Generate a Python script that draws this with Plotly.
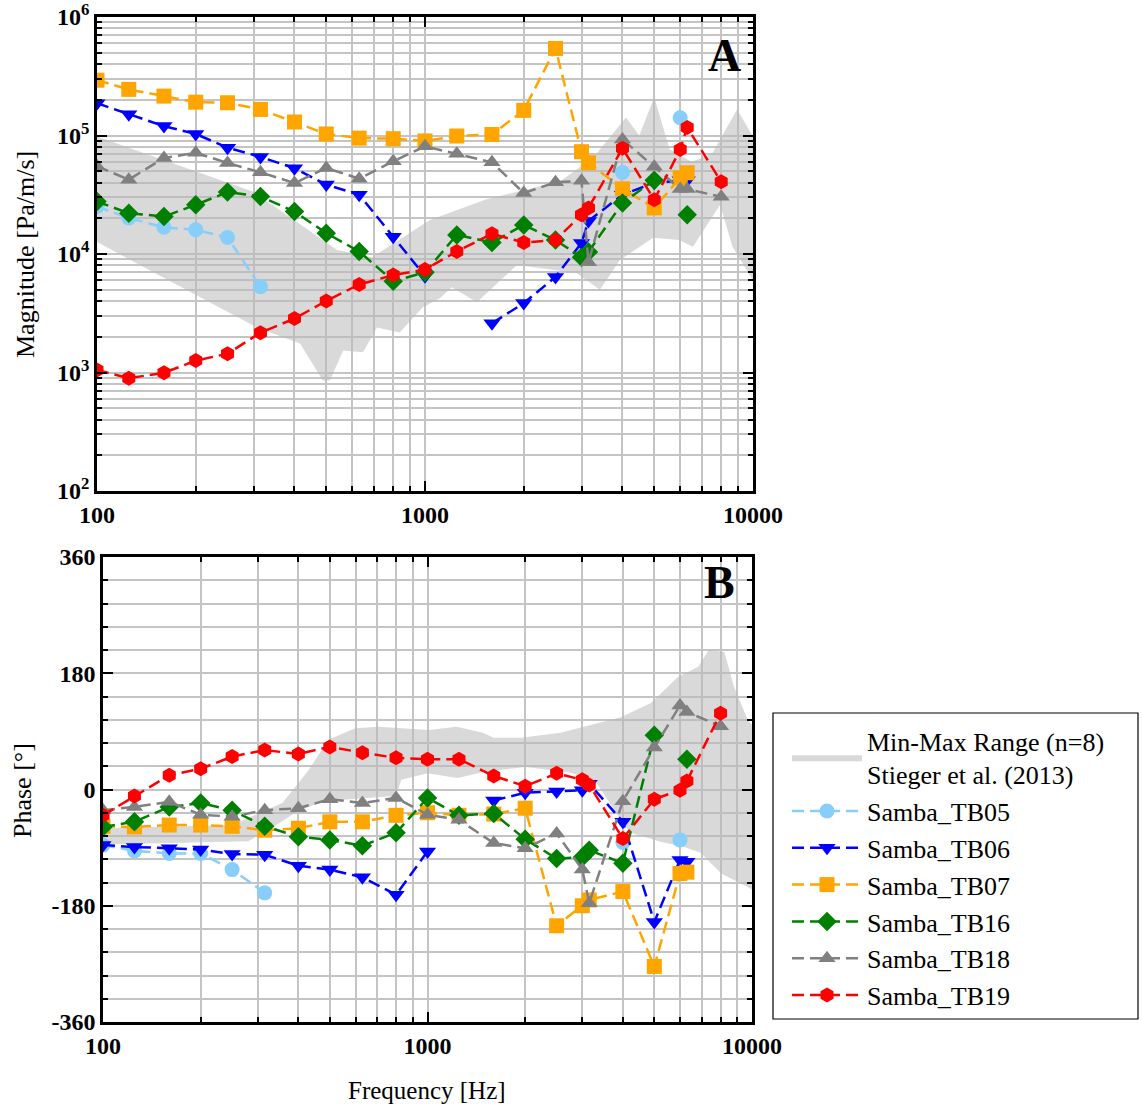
import plotly.graph_objects as go

# ---------------- data ----------------
freqs = [100, 125, 160, 200, 250, 315, 400, 500, 630, 800, 1000, 1250, 1600,
         2000, 2500, 3000, 3150, 4000, 5000, 6000, 6300, 8000]

series_names = ["Samba_TB05", "Samba_TB06", "Samba_TB07", "Samba_TB16",
                "Samba_TB18", "Samba_TB19"]

mag_tb05 = [2.52e4, 2.01e4, 1.68e4, 1.6e4, 1.38e4, 5.3e3, None, None, None, None, None,
            None, None, None, None, None, None, 4.87e4, None, 1.41e5, None, None]
mag_tb06 = [1.87e5, 1.51e5, 1.2e5, 1.03e5, 7.9e4, 6.6e4, 5.3e4, 3.85e4, 3.16e4, 1.4e4, 6.5e3,
            None, 2.6e3, 3.85e3, 6.4e3, 1.24e4, 1.9e4, 3.16e4, 4.0e4, 4.2e4, 4.2e4, None]
mag_tb07 = [2.93e5, 2.45e5, 2.15e5, 1.91e5, 1.89e5, 1.66e5, 1.3e5, 1.03e5, 9.5e4, 9.4e4, 9.0e4,
            9.9e4, 1.02e5, 1.63e5, 5.43e5, 7.3e4, 5.9e4, 3.55e4, 2.45e4, 4.4e4, 4.85e4, None]
mag_tb16 = [2.77e4, 2.21e4, 2.07e4, 2.6e4, 3.33e4, 3.06e4, 2.28e4, 1.5e4, 1.05e4, 5.9e3, 7.0e3,
            1.45e4, 1.25e4, 1.76e4, 1.31e4, 9.4e3, 1.04e4, 2.7e4, 4.2e4, None, 2.14e4, None]
mag_tb18 = [5.5e4, 4.24e4, 6.47e4, 7.14e4, 5.87e4, 4.89e4, 3.97e4, 5.32e4, 4.32e4, 6.05e4, 8.1e4,
            7.03e4, 5.94e4, 3.27e4, 4.03e4, 4.15e4, 8.5e3, 9.25e4, 5.46e4, 3.53e4, 3.53e4, 3.04e4]
mag_tb19 = [1.05e3, 896, 994, 1.26e3, 1.44e3, 2.17e3, 2.85e3, 4.02e3, 5.53e3, 6.64e3, 7.41e3,
            1.05e4, 1.48e4, 1.25e4, 1.31e4, 2.14e4, 2.45e4, 7.8e4, 2.87e4, 7.6e4, 1.17e5, 4.07e4]

ph_tb05 = [-86, -95, -99, -99, -124, -160, None, None, None, None, None,
           None, None, None, None, None, None, -82, None, -78, None, None]
ph_tb06 = [-86, -89, -91, -93, -100, -101, -118, -124, -136, -163, -96,
           None, -17, -5, -3, -1, 9, -50, -205, -109, -112, None]
ph_tb07 = [-57, -58, -55, -55, -57, -63, -60, -50, -50, -40, -36,
           -40, -38, -29, -211, -180, -171, -158, -274, -130, -128, None]
ph_tb16 = [-58, -50, -27, -21, -32, -57, -73, -78, -87, -67, -13,
           -40, -37, -77, -107, -105, -94, -114, 84, None, 47, None]
ph_tb18 = [-32, -27, -19, -39, -42, -32, -29, -15, -21, -13, -39,
           -47, -83, -91, -68, -124, -176, -18, 65, 130, 120, 98]
ph_tb19 = [-40, -10, 22, 32, 51, 61, 55, 66, 57, 49, 47,
           47, 21, 5, 25, 15, 7, -76, -15, -1, 13, 118]

# Min-max range (Stieger et al. 2013), magnitude
band_mag_upper_f = [100, 300, 540, 690, 1035, 1540, 2580, 3270, 4100, 4500, 5000, 5570,
                    6500, 7500, 8940, 10000]
band_mag_upper_v = [9.8e4, 3.35e4, 1.08e4, 9.4e3, 1.94e4, 2.9e4, 4.1e4, 6.6e4, 1.42e5,
                    1.0e5, 2.1e5, 7.6e4, 6.0e4, 7.0e4, 1.66e5, 9.8e4]
band_mag_lower_f = [100, 307, 416, 488, 513, 563, 647, 714, 837, 985, 1110, 1207, 1440,
                    1905, 2900, 3412, 3930, 4960, 5960, 6560, 7940, 8660, 10000]
band_mag_lower_v = [1.26e4, 2.4e3, 1.76e3, 855, 855, 1.53e3, 1.48e3, 2.4e3, 2.18e3, 3.56e3,
                    4.24e3, 5.25e3, 3.92e3, 8.07e3, 6.9e3, 5.0e3, 8.9e3, 1.37e4, 1.31e4,
                    1.15e4, 2.6e4, 1.15e4, 6.0e3]

# Min-max range, phase
band_ph_upper_f = [100, 250, 357, 430, 495, 599, 707, 1010, 1230, 1480, 1600, 1950, 2570,
                   3940, 4880, 5900, 6830, 7360, 8220, 8800, 9700, 10000]
band_ph_upper_v = [-60, -55, -21, 30, 77, 95, 97, 92, 97, 88, 80, 80, 88,
                   112, 134, 174, 190, 216, 213, 159, 108, 100]
band_ph_lower_f = [100, 280, 330, 400, 480, 700, 800, 830, 1000, 1236, 1490, 2000, 2700,
                   3270, 3940, 4220, 5230, 6180, 6940, 8040, 9700, 10000]
band_ph_lower_v = [-85, -80, -60, -33, -18, -12, -10, 15, 25, 18, 27, 35, 27,
                   15, -47, -67, -81, -89, -98, -130, -151, -155]

band_name = "Min-Max Range (n=8)<br>Stieger et al. (2013)"

mag_x_ticks = [100, 1000, 10000]
mag_x_labels = ["100", "1000", "10000"]
mag_y_ticks = [1e2, 1e3, 1e4, 1e5, 1e6]
mag_y_labels = ["10<sup>2</sup>", "10<sup>3</sup>", "10<sup>4</sup>", "10<sup>5</sup>", "10<sup>6</sup>"]
ph_y_ticks = [-360, -180, 0, 180, 360]
ph_y_labels = ["-360", "-180", "0", "180", "360"]

# ---------------- style ----------------
colors = ["#87CEFA", "#0000FF", "#FFA500", "#008000", "#808080", "#FF0000"]
symbols = ["circle", "triangle-down", "square", "diamond", "triangle-up", "hexagon"]
mags = [mag_tb05, mag_tb06, mag_tb07, mag_tb16, mag_tb18, mag_tb19]
phs = [ph_tb05, ph_tb06, ph_tb07, ph_tb16, ph_tb18, ph_tb19]

W, H = 1142, 1106
FONT = "Liberation Serif"
band_fill = "rgba(185,185,185,0.55)"
grid_col = "#c4c4c4"

fig = go.Figure()

def add_band(fu, vu, fl, vl, xa, ya, show):
    fig.add_trace(go.Scatter(
        x=list(fu) + list(fl)[::-1], y=list(vu) + list(vl)[::-1],
        fill="toself", fillcolor=band_fill, mode="lines",
        line=dict(width=0, color="rgba(0,0,0,0)"),
        name=band_name, showlegend=show, xaxis=xa, yaxis=ya, hoverinfo="skip"))

add_band(band_mag_upper_f, band_mag_upper_v, band_mag_lower_f, band_mag_lower_v, "x", "y", True)
add_band(band_ph_upper_f, band_ph_upper_v, band_ph_lower_f, band_ph_lower_v, "x2", "y2", False)

for i, nm in enumerate(series_names):
    for vals, xa, ya, show in [(mags[i], "x", "y", True), (phs[i], "x2", "y2", False)]:
        fig.add_trace(go.Scatter(
            x=freqs, y=vals, mode="lines+markers", name=nm, legendgroup=nm,
            showlegend=show, xaxis=xa, yaxis=ya, connectgaps=False,
            line=dict(color=colors[i], width=2.5, dash="12px,6px"),
            marker=dict(color=colors[i], symbol=symbols[i], size=15,
                        line=dict(width=0))))

def log_minor(lo, hi):
    out = []
    for e in range(lo, hi):
        for m in range(2, 10):
            out.append(m * 10 ** e)
    return out

tickfont = dict(family=FONT, size=24, color="black")
common = dict(showline=True, linecolor="black", linewidth=2.5, mirror="ticks",
              ticks="inside", ticklen=10, tickwidth=2, tickcolor="black",
              showgrid=True, gridcolor=grid_col, gridwidth=1.5, zeroline=False,
              tickfont=tickfont, tickmode="array", automargin=False)

minor_x = dict(tickmode="array", tickvals=log_minor(2, 4), ticks="inside", ticklen=5,
               tickwidth=1.5, tickcolor="black", showgrid=True, gridcolor=grid_col,
               gridwidth=1.5)
minor_ymag = dict(tickmode="array", tickvals=log_minor(2, 6), ticks="inside", ticklen=5,
                  tickwidth=1.5, tickcolor="black", showgrid=True, gridcolor=grid_col,
                  gridwidth=1.5)
minor_yph = dict(tickmode="linear", tick0=0, dtick=36, ticks="inside", ticklen=5,
                 tickwidth=1.5, tickcolor="black", showgrid=True, gridcolor=grid_col,
                 gridwidth=1.5)

bold = lambda L: ["<b>%s</b>" % s for s in L]

LEG_X0, LEG_Y0, LEG_X1, LEG_Y1 = 773, 713, 1138, 1019

fig.update_layout(
    width=W, height=H, autosize=False,
    margin=dict(l=0, r=0, t=0, b=0, pad=0, autoexpand=False),
    paper_bgcolor="white", plot_bgcolor="white",
    font=dict(family=FONT, color="black"),
    xaxis=dict(type="log", range=[2, 4], domain=[97 / W, 753 / W], anchor="y",
               tickvals=mag_x_ticks, ticktext=bold(mag_x_labels), minor=minor_x, **common),
    yaxis=dict(type="log", range=[2, 6], domain=[1 - 491 / H, 1 - 17 / H], anchor="x",
               tickvals=mag_y_ticks, ticktext=bold(mag_y_labels), minor=minor_ymag, **common),
    xaxis2=dict(type="log", range=[2, 4], domain=[103 / W, 752 / W], anchor="y2",
                tickvals=mag_x_ticks, ticktext=bold(mag_x_labels), minor=minor_x, **common),
    yaxis2=dict(range=[-360, 360], domain=[1 - 1022 / H, 1 - 557 / H], anchor="x2",
                tickvals=ph_y_ticks, ticktext=bold(ph_y_labels), minor=minor_yph, **common),
    legend=dict(x=787 / W, y=1 - 717 / H, xanchor="left", yanchor="top",
                borderwidth=0, bgcolor="rgba(0,0,0,0)",
                font=dict(family=FONT, size=26, color="black"),
                itemwidth=70, tracegroupgap=0),
    showlegend=True,
)

# legend frame
fig.add_shape(type="rect", xref="paper", yref="paper",
              x0=LEG_X0 / W, x1=LEG_X1 / W, y0=1 - LEG_Y1 / H, y1=1 - LEG_Y0 / H,
              line=dict(color="black", width=1.2), fillcolor="rgba(0,0,0,0)", layer="below")

annos = [
    dict(text="Magnitude [Pa/m/s]", x=25 / W, y=1 - 255 / H, textangle=-90, size=26),
    dict(text="Phase [°]", x=22 / W, y=1 - 791 / H, textangle=-90, size=26),
    dict(text="Frequency [Hz]", x=427 / W, y=1 - 1090 / H, textangle=0, size=25),
    dict(text="<b>A</b>", x=724 / W, y=1 - 55 / H, textangle=0, size=46),
    dict(text="<b>B</b>", x=720 / W, y=1 - 582 / H, textangle=0, size=46),
]
for a in annos:
    fig.add_annotation(text=a["text"], x=a["x"], y=a["y"], xref="paper", yref="paper",
                       xanchor="center", yanchor="middle", showarrow=False,
                       textangle=a["textangle"],
                       font=dict(family=FONT, size=a["size"], color="black"))

fig.write_html("out.html")
